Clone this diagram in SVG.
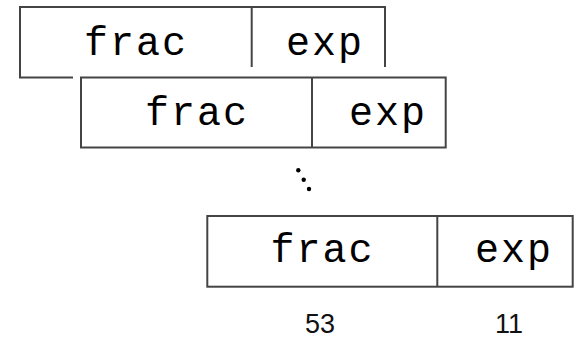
<svg xmlns="http://www.w3.org/2000/svg" width="579" height="339" viewBox="0 0 579 339">
<style>
.box{fill:#fff;stroke:#444;stroke-width:2}
.div{stroke:#444;stroke-width:2}
.mono{font-family:"Liberation Mono","DejaVu Sans Mono",monospace;font-size:40px;fill:#000;text-anchor:middle;letter-spacing:2px}
.num{font-family:"Liberation Sans",Arial,sans-serif;font-size:27px;fill:#111;text-anchor:middle}
</style>
<rect width="579" height="339" fill="#fff"/>
<g id="word1">
<rect class="box" x="20" y="7" width="365" height="70.5"/>
<line class="div" x1="251.7" y1="7" x2="251.7" y2="77.5"/>
<text class="mono" x="136" y="54.5">frac</text>
<text class="mono" x="325" y="54.5">exp</text>
</g>
<g id="word2">
<rect x="73" y="67" width="382" height="88" fill="#fff"/>
<rect class="box" x="81" y="77.5" width="364.7" height="70"/>
<line class="div" x1="312" y1="77.5" x2="312" y2="147.5"/>
<text class="mono" x="197" y="125">frac</text>
<text class="mono" x="388" y="125">exp</text>
</g>
<g id="dots" fill="#000">
<circle cx="298.3" cy="170.3" r="2.2"/>
<circle cx="303.7" cy="179.7" r="2.2"/>
<circle cx="309" cy="189" r="2.2"/>
</g>
<g id="word3">
<rect class="box" x="207.3" y="216" width="365.4" height="70.7"/>
<line class="div" x1="437.3" y1="216" x2="437.3" y2="286.7"/>
<text class="mono" x="322.5" y="262">frac</text>
<text class="mono" x="514" y="262">exp</text>
</g>
<g id="labels">
<text class="num" x="320" y="333">53</text>
<text class="num" x="509" y="333">11</text>
</g>
<g id="connectors"/>
</svg>
